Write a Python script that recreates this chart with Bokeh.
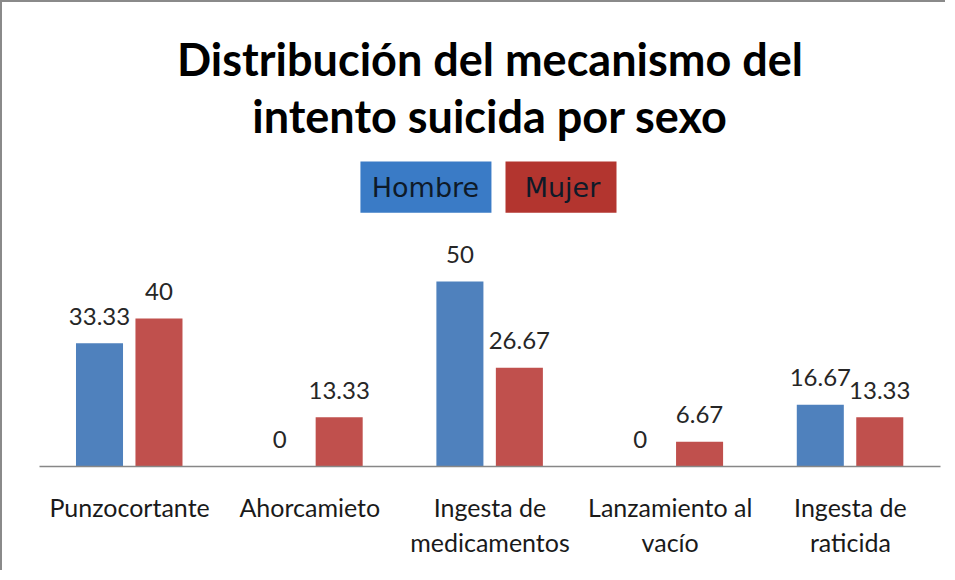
from bokeh.plotting import figure
from bokeh.models import ColumnDataSource, FactorRange, Label, BoxAnnotation, Range1d
from bokeh.transform import dodge
from bokeh.core.properties import value
from bokeh.embed import file_html
from bokeh.resources import INLINE

categories = ["Punzocortante", "Ahorcamieto", "Ingesta de\nmedicamentos",
              "Lanzamiento al\nvacío", "Ingesta de\nraticida"]
hombre = [33.33, 0, 50, 0, 16.67]
mujer = [40, 13.33, 26.67, 6.67, 13.33]
series = ["Hombre", "Mujer"]
title_lines = ["Distribución del mecanismo del", "intento suicida por sexo"]

bar_colors = ["#4F81BD", "#C0504D"]
legend_colors = ["#3A7BC6", "#B3352F"]

src = ColumnDataSource(dict(
    cats=categories,
    hombre=hombre,
    mujer=mujer,
    hombre_lbl=[f"{v:g}" for v in hombre],
    mujer_lbl=[f"{v:g}" for v in mujer],
))

p = figure(x_range=FactorRange(*categories, range_padding=0),
           y_range=Range1d(0, 125.4),
           width=945, height=570,
           output_backend="svg", toolbar_location=None,
           y_axis_location=None,
           min_border_left=37, min_border_right=7,
           min_border_top=0, min_border_bottom=106,
           background_fill_color="white", border_fill_color="white",
           outline_line_color=None,
           styles={"border-top": "2px solid #8A8A8A", "border-left": "2px solid #8A8A8A"})

p.xgrid.grid_line_color = None
p.ygrid.grid_line_color = None

p.vbar(x=dodge("cats", -0.167, range=p.x_range), top="hombre", width=0.261,
       source=src, color=bar_colors[0], line_color=None)
p.vbar(x=dodge("cats", 0.163, range=p.x_range), top="mujer", width=0.261,
       source=src, color=bar_colors[1], line_color=None)

lbl_kw = dict(y_offset=-27, text_align="center", text_baseline="middle",
              text_font=value("Lato"), text_font_size="24px", text_color="#262626",
              source=src)
p.text(x=dodge("cats", -0.167, range=p.x_range), y="hombre", text="hombre_lbl", **lbl_kw)
p.text(x=dodge("cats", 0.163, range=p.x_range), y="mujer", text="mujer_lbl", **lbl_kw)

ax = p.xaxis[0]
ax.axis_line_color = "#878787"
ax.axis_line_width = 1.5
ax.major_tick_line_color = None
ax.minor_tick_line_color = None
ax.major_label_text_font = "Lato"
ax.major_label_text_font_size = "25px"
ax.major_label_text_color = "#1a1a1a"
ax.major_label_standoff = 19
ax.major_label_text_line_height = 1.17

# title
for txt, yy in zip(title_lines, [110.2, 94.6]):
    p.add_layout(Label(x=2.5, y=yy, text=txt, text_align="center", text_baseline="middle",
                       text_font="Lato", text_font_style="bold", text_font_size="45px",
                       text_color="#000000"))

# legend boxes
boxes = [(1.781, 2.508, 2.142), (2.586, 3.202, 2.902)]
for (l, r, cx), name, col in zip(boxes, series, legend_colors):
    p.add_layout(BoxAnnotation(left=l, right=r, bottom=68.6, top=82.4,
                               fill_color=col, fill_alpha=1.0, line_color=None))
    p.add_layout(Label(x=cx, y=75.4, text=name, text_align="center", text_baseline="middle",
                       text_font="DejaVu Sans", text_font_size="27px", text_color="#0E1A28"))

open("out.html", "w").write(file_html(p, INLINE))
